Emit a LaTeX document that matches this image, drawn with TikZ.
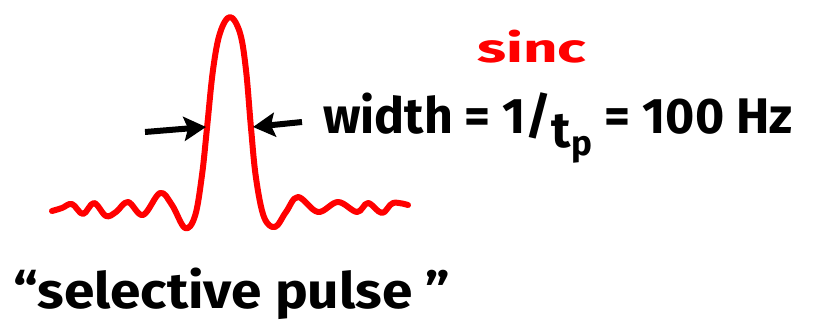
\documentclass[tikz,border=0pt]{standalone}
\usepackage{fontspec}
\setmainfont{Fira Sans}
\usetikzlibrary{arrows.meta,positioning}

\begin{document}
\begin{tikzpicture}[x=0.5pt, y=-0.5pt,
    every node/.style={inner sep=0pt, font=\bfseries\fontsize{25}{28}\selectfont},
    pulse/.style={red, line width=3pt, line cap=round, line join=round},
    marker/.style={-{Stealth[length=11pt,width=12pt,inset=2pt]}, line width=3pt, black}
]
    % page frame
    \useasboundingbox (0,0) rectangle (832,327);

    % the sinc pulse, hand drawn
    \draw[pulse] plot[smooth, tension=0.6] coordinates {
        (52,211) (62,208) (72,204) (83,214) (94,203) (106,216) (116,212)
        (128,202) (143,215) (160,193) (172,205) (185,228) (195,216)
        (202,175) (207,128) (213,70) (220,33) (230,17) (240,33) (246,70)
        (251,128) (256,178) (264,217) (275,227) (286,212) (298,197)
        (318,212) (338,202) (357,212) (368,203) (382,213) (393,203) (408,205)};

    % labels
    \node (sinc) [anchor=base west, red,
        font=\bfseries\fontsize{20}{22}\selectfont\addfontfeature{FakeStretch=1.5}] at (477,62) {sinc};
    \node (width) [anchor=base west] at (323,133)
        {width = 1/\raisebox{-0.55ex}{t\textsubscript{p}} = 100 Hz};
    \node (label) [anchor=base west,
        font=\bfseries\fontsize{25}{28}\selectfont\addfontfeature{FakeStretch=1.1}] at (13,308) {“selective pulse ”};

    % width markers
    \coordinate (tailL) at (145,132);
    \coordinate (edgeL) at (206,127);
    \coordinate (tailR) at (302,122);
    \coordinate (edgeR) at (253,127);
    \draw[marker] (tailL) -- (edgeL);
    \draw[marker] (tailR) -- (edgeR);

\end{tikzpicture}
\end{document}
